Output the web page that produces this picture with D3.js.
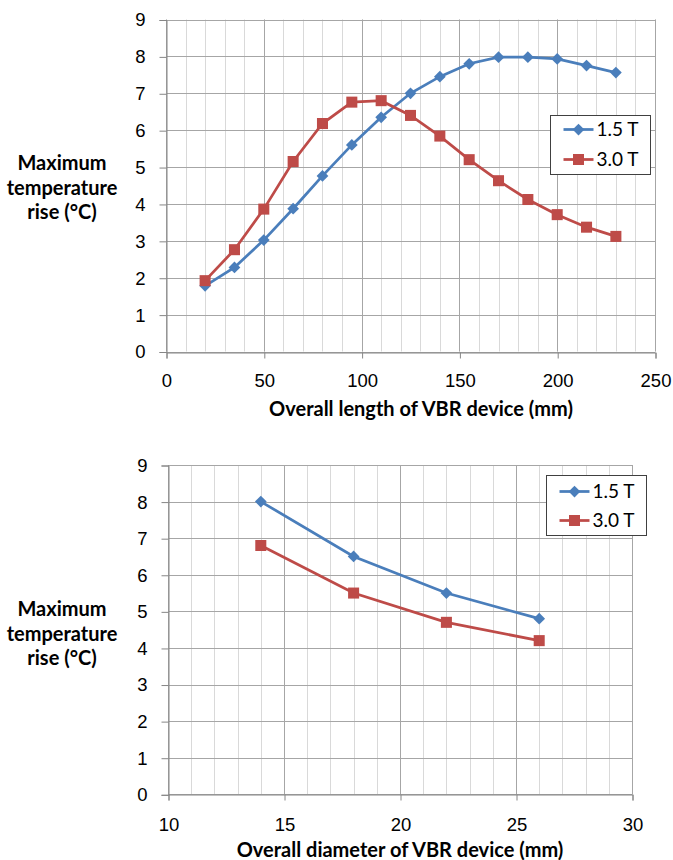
<!DOCTYPE html>
<meta charset="utf-8">
<style>
body { margin: 0; background: #fff; }
svg { display: block; font-family: Lato, "Open Sans", sans-serif; }
.tick text { font-size: 18.5px; fill: #000; }
.title { font-size: 20px; font-weight: bold; fill: #000; text-anchor: middle; }
.legend text { font-size: 19px; fill: #000; }
</style>
<svg width="673" height="860"></svg>
<script src="https://cdn.jsdelivr.net/npm/d3@7"></script>
<script>

// chart 1: overall length
var lengthX = [20, 35, 50, 65, 80, 95, 110, 125, 140, 155, 170, 185, 200, 215, 230];
var length15 = [1.78, 2.28, 3.02, 3.87, 4.76, 5.6, 6.35, 7.0, 7.45, 7.8, 7.98, 7.98, 7.93, 7.75, 7.56];
var length30 = [1.92, 2.76, 3.86, 5.15, 6.18, 6.76, 6.8, 6.4, 5.84, 5.2, 4.63, 4.12, 3.71, 3.37, 3.12];

// chart 2: overall diameter
var diamX = [14, 18, 22, 26];
var diam15 = [8.0, 6.5, 5.5, 4.8];
var diam30 = [6.8, 5.5, 4.7, 4.2];

var seriesNames = ["1.5 T", "3.0 T"];
var colors = ["#4a7ebb", "#be4b48"];

var svg = d3.select("svg");

function drawChart(o) {
  var g = svg.append("g");

  var x = d3.scaleLinear().domain(o.xDomain).range([o.left, o.right]);
  var y = d3.scaleLinear().domain([0, 9]).range([o.bottom, o.top]);

  // minor vertical grid
  g.append("g").selectAll("line")
      .data(d3.range(o.xDomain[0], o.xDomain[1] + 0.001, o.minor))
    .enter().append("line")
      .attr("x1", function(d) { return Math.round(x(d)) + 0.5; })
      .attr("x2", function(d) { return Math.round(x(d)) + 0.5; })
      .attr("y1", o.top).attr("y2", o.bottom)
      .attr("stroke", "#d9d9d9");

  // major vertical grid
  g.append("g").selectAll("line")
      .data(d3.range(o.xDomain[0], o.xDomain[1] + 0.001, o.major))
    .enter().append("line")
      .attr("x1", function(d) { return Math.round(x(d)) + 0.5; })
      .attr("x2", function(d) { return Math.round(x(d)) + 0.5; })
      .attr("y1", o.top).attr("y2", o.bottom)
      .attr("stroke", "#a6a6a6");

  // horizontal grid
  g.append("g").selectAll("line")
      .data(d3.range(0, 10))
    .enter().append("line")
      .attr("x1", o.left).attr("x2", o.right)
      .attr("y1", function(d) { return Math.round(y(d)) + 0.5; })
      .attr("y2", function(d) { return Math.round(y(d)) + 0.5; })
      .attr("stroke", "#a6a6a6");

  var yAxis = g.append("g")
      .attr("transform", "translate(" + (Math.round(o.left) + 0.5) + ",0.5)")
      .call(d3.axisLeft(y).ticks(9).tickSize(7).tickPadding(14));
  yAxis.select(".domain").attr("stroke", "#868686");
  yAxis.selectAll(".tick line").attr("stroke", "#868686");

  var xAxis = g.append("g")
      .attr("transform", "translate(0.5," + (Math.round(o.bottom) + 0.5) + ")")
      .call(d3.axisBottom(x).tickValues(d3.range(o.xDomain[0], o.xDomain[1] + 0.001, o.major))
        .tickSize(6).tickPadding(o.xPad));
  xAxis.select(".domain").attr("stroke", "#868686");
  xAxis.selectAll(".tick line").attr("stroke", "#868686");

  var line = d3.line()
      .x(function(d) { return x(d[0]); })
      .y(function(d) { return y(d[1]); });

  o.series.forEach(function(s, i) {
    var pts = o.xs.map(function(v, j) { return [v, s[j]]; });
    g.append("path")
        .datum(pts)
        .attr("fill", "none")
        .attr("stroke", colors[i])
        .attr("stroke-width", 2.75)
        .attr("d", line);
    g.append("g").selectAll("path")
        .data(pts)
      .enter().append("path")
        .attr("transform", function(d) { return "translate(" + x(d[0]) + "," + y(d[1]) + ")"; })
        .attr("d", marker(i))
        .attr("fill", colors[i]);
  });

  // y title
  var yt = g.append("text").attr("class", "title")
      .attr("transform", "translate(62," + o.yTitle + ")");
  ["Maximum", "temperature", "rise (\u00b0C)"].forEach(function(t, i) {
    yt.append("tspan").attr("x", 0).attr("dy", i ? 24.5 : 0).text(t);
  });

  g.append("text").attr("class", "title")
      .attr("x", o.xTitleX)
      .attr("y", o.xTitle)
      .text(o.xLabel);

  // legend
  var lg = g.append("g").attr("class", "legend")
      .attr("transform", "translate(" + o.legend[0] + "," + o.legend[1] + ")");
  lg.append("rect")
      .attr("width", 100).attr("height", o.legendH)
      .attr("fill", "#fff").attr("stroke", "#404040");
  seriesNames.forEach(function(n, i) {
    var cy = o.legendRow0 + i * o.legendStep;
    lg.append("line")
        .attr("x1", 13).attr("x2", 43).attr("y1", cy).attr("y2", cy)
        .attr("stroke", colors[i]).attr("stroke-width", 2.75);
    lg.append("path")
        .attr("transform", "translate(28," + cy + ")")
        .attr("d", marker(i))
        .attr("fill", colors[i]);
    lg.append("text")
        .attr("x", 46).attr("y", cy).attr("dy", "0.35em")
        .text(n);
  });
}

function marker(i) {
  return i === 0
    ? d3.symbol().type(d3.symbolDiamond2).size(88)()
    : d3.symbol().type(d3.symbolSquare2).size(155)();
}

drawChart({
  xDomain: [0, 250], major: 50, minor: 10,
  left: 166, right: 655, top: 19.5, bottom: 351.5,
  xs: lengthX, series: [length15, length30],
  xLabel: "Overall length of VBR device (mm)",
  xPad: 15, xTitle: 416, xTitleX: 421, yTitle: 170,
  legend: [550.5, 115.5], legendH: 59, legendRow0: 14, legendStep: 30
});

drawChart({
  xDomain: [10, 30], major: 5, minor: 1,
  left: 168, right: 632, top: 465, bottom: 794.3,
  xs: diamX, series: [diam15, diam30],
  xLabel: "Overall diameter of VBR device (mm)",
  xPad: 17, xTitle: 857, xTitleX: 400, yTitle: 616,
  legend: [546.5, 475.5], legendH: 60, legendRow0: 16, legendStep: 29
});

</script>
